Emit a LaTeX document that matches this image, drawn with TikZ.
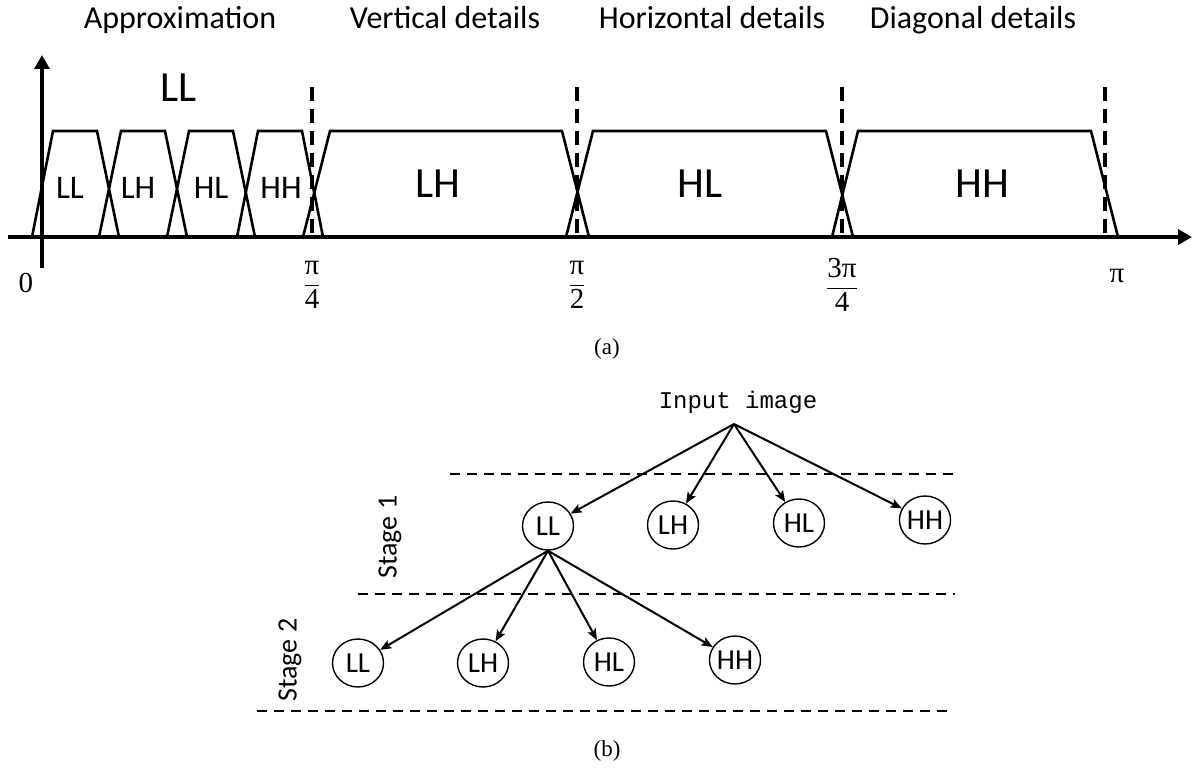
\documentclass[tikz,border=0pt]{standalone}
\usepackage{fontspec}
\setmainfont{Liberation Serif}
\setsansfont{Carlito}
\setmonofont{Liberation Mono}
\usetikzlibrary{arrows.meta,shapes.geometric}
\tikzset{
  band/.style={line width=2.6pt, line join=miter},
  cutoff/.style={line width=4pt, dash pattern=on 14pt off 8pt},
  axis/.style={line width=4.2pt, -{Triangle[length=14pt,width=15pt]}},
  head/.style={font=\sffamily\fontsize{32}{36}\selectfont, anchor=base},
  biglbl/.style={font=\sffamily\fontsize{43}{48}\selectfont, anchor=base},
  smalllbl/.style={font=\sffamily\fontsize{33}{38}\selectfont, anchor=base},
  tick/.style={font=\fontsize{29}{34}\selectfont},
  caption/.style={font=\fontsize{23}{27}\selectfont},
  sub/.style={draw, ellipse, line width=1.4pt, minimum width=51pt, minimum height=48pt,
    inner sep=0pt, font=\sffamily\fontsize{29}{32}\selectfont},
  split/.style={line width=2pt, -{Stealth[length=11pt,width=9pt,inset=2pt]}},
  stagesep/.style={line width=2.2pt, dash pattern=on 10pt off 7pt},
  stagelbl/.style={rotate=90, font=\sffamily\fontsize{28}{32}\selectfont}
}
\newcommand\piover[2]{$\displaystyle\frac{\hbox{#1}}{\hbox{#2}}$}
\begin{document}
\begin{tikzpicture}[x=1pt,y=-1pt]
\useasboundingbox (0,0) rectangle (1195,770);
\node[head] (happ) at (180,29) {Approximation};
\node[head] (hver) at (445,29) {Vertical details};
\node[head] (hhor) at (712,29) {Horizontal details};
\node[head] (hdia) at (973,29) {Diagonal details};
\foreach \xa/\xb/\xc/\xd in {32/53/97/119, 99/121/165/187, 167/189/233/255, 237/258/302/323,
  303/330/562/589, 566/593/826/853, 832/858/1091/1118}
  \draw[band] (\xa,237) -- (\xb,131) -- (\xc,131) -- (\xd,237);
\foreach \xq in {312,577,842,1105}
  \draw[cutoff] (\xq,87) -- (\xq,237);
\draw[axis] (8,237) -- (1192,237);
\draw[axis] (42,268) -- (42,55);
\node[biglbl] (lltop) at (179,102) {LL};
\node[smalllbl] (ll) at (70,199) {LL};
\node[smalllbl] (lh) at (138,199) {LH};
\node[smalllbl] (hl) at (211,199) {HL};
\node[smalllbl] (hh) at (281,199) {HH};
\node[biglbl] (lhbig) at (438,198) {LH};
\node[biglbl] (hlbig) at (700,198) {HL};
\node[biglbl] (hhbig) at (982,198) {HH};
\node[tick] (t0) at (26,283) {0};
\node[tick] (t1) at (312,285) {\piover{π}{4}};
\node[tick] (t2) at (577,285) {\piover{π}{2}};
\node[tick] (t3) at (842,285) {\piover{3π}{4}};
\node[tick] (t4) at (1117,276) {π};
\node[caption] (capa) at (607,349) {(a)};
\node[font=\ttfamily\fontsize{24}{28}\selectfont, anchor=base] (inp) at (738,408) {Input image};
\coordinate (src) at (734,424);
\draw[stagesep] (450,474) -- (957,474);
\draw[stagesep] (358,594) -- (955,594);
\draw[stagesep] (257,711) -- (950,711);
\node[stagelbl] (st1) at (390,537) {Stage 1};
\node[stagelbl] (st2) at (290,660) {Stage 2};
\node[sub] (ll1) at (548,526) {LL};
\node[sub] (lh1) at (673,525) {LH};
\node[sub] (hl1) at (799,523) {HL};
\node[sub] (hh1) at (925,520) {HH};
\node[sub] (ll2) at (358,663) {LL};
\node[sub] (lh2) at (483,663) {LH};
\node[sub] (hl2) at (609,662) {HL};
\node[sub] (hh2) at (735,660) {HH};
\foreach \n in {ll1,lh1,hl1,hh1}
  \draw[split] (src) -- (\n);
\foreach \n in {ll2,lh2,hl2,hh2}
  \draw[split] (ll1.south) -- (\n);
\node[caption] (capb) at (607,751) {(b)};
\end{tikzpicture}
\end{document}
